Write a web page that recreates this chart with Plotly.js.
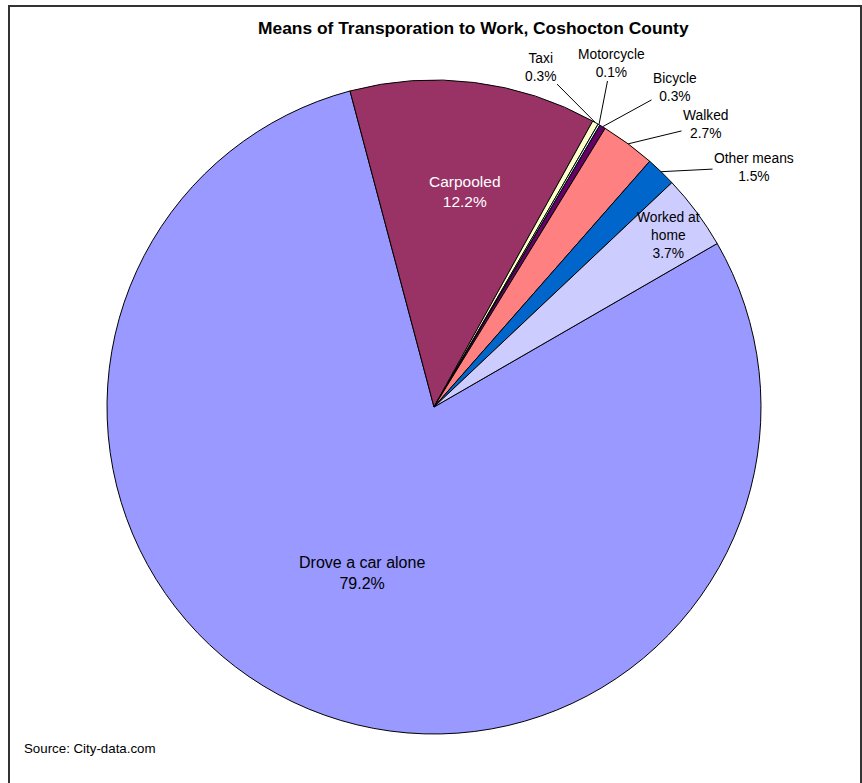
<!DOCTYPE html>
<html>
<head>
<meta charset="utf-8">
<script src="https://cdn.plot.ly/plotly-3.0.1.min.js"></script>
<style>html,body{margin:0;padding:0;background:#fff;}#chart{width:862px;height:783px;}</style>
</head>
<body>
<div id="chart"></div>
<script>
// ---- data ----
const categories = ["Drove a car alone", "Carpooled", "Taxi", "Motorcycle", "Bicycle", "Walked", "Other means", "Worked at home"];
const labelText = ["Drove a car alone", "Carpooled", "Taxi", "Motorcycle", "Bicycle", "Walked", "Other means", "Worked at<br>home"];
const percents = [79.2, 12.2, 0.3, 0.1, 0.3, 2.7, 1.5, 3.7];
const colors = ["#9999FF", "#993366", "#FFFFCC", "#CCFFFF", "#660066", "#FF8080", "#0066CC", "#CCCCFF"];

// ---- layout constants ----
const W = 862, H = 783;
const CX = 434, CY = 407, R = 327;
const ROT = 60;
const FONT = "Arial, 'Liberation Sans', sans-serif";
// label placement (text centre in pixels), leader flag, font size, colour
const labelPos = [
  {x: 362, y: 573, leader: false, size: 16,   color: "#000"},
  {x: 465, y: 192, leader: false, size: 15.5, color: "#fff"},
  {x: 540, y: 67,  leader: true,  size: 13.8, color: "#000"},
  {x: 611, y: 63,  leader: true,  size: 13.8, color: "#000"},
  {x: 675, y: 87,  leader: true,  size: 13.8, color: "#000"},
  {x: 706, y: 125, leader: true,  size: 13.8, color: "#000"},
  {x: 754, y: 167, leader: true,  size: 13.8, color: "#000"},
  {x: 668, y: 235, leader: false, size: 13.8, color: "#000"}
];

const total = percents.reduce((a, b) => a + b, 0);
let cum = 0;
const annotations = [];
percents.forEach((v, i) => {
  const mid = ROT + (cum + v / 2) / total * 360;
  cum += v;
  const p = labelPos[i];
  const txt = labelText[i] + "<br>" + v.toFixed(1) + "%";
  if (p.leader) {
    const a = mid * Math.PI / 180;
    const ex = CX + R * Math.sin(a), ey = CY - R * Math.cos(a);
    annotations.push({
      xref: "paper", yref: "paper", x: ex / W, y: 1 - ey / H,
      ax: p.x - ex, ay: p.y - ey, axref: "pixel", ayref: "pixel",
      text: txt, showarrow: true, arrowhead: 0, arrowwidth: 1, arrowcolor: "#000",
      standoff: 0, startstandoff: 0,
      font: {family: FONT, size: p.size, color: p.color}, align: "center"
    });
  } else {
    annotations.push({
      xref: "paper", yref: "paper", x: p.x / W, y: 1 - p.y / H,
      xanchor: "center", yanchor: "middle", text: txt, showarrow: false,
      font: {family: FONT, size: p.size, color: p.color}, align: "center"
    });
  }
});

annotations.push({
  xref: "paper", yref: "paper", x: 473 / W, y: 1 - 28 / H, xanchor: "center", yanchor: "middle",
  text: "<b>Means of Transporation to Work, Coshocton County</b>", showarrow: false,
  font: {family: FONT, size: 17.4, color: "#000"}
});
annotations.push({
  xref: "paper", yref: "paper", x: 22 / W, y: 1 - 748 / H, xanchor: "left", yanchor: "middle",
  text: "Source: City-data.com", showarrow: false,
  font: {family: FONT, size: 13.3, color: "#000"}
});

const trace = {
  type: "pie",
  labels: categories,
  values: percents,
  sort: false,
  direction: "clockwise",
  rotation: ROT,
  textinfo: "none",
  hoverinfo: "label+percent",
  marker: {colors: colors, line: {color: "#000", width: 1}},
  domain: {x: [(CX - R) / W, (CX + R) / W], y: [1 - (CY + R) / H, 1 - (CY - R) / H]},
  showlegend: false
};

const layout = {
  width: W, height: H,
  margin: {l: 0, r: 0, t: 0, b: 0},
  paper_bgcolor: "#fff",
  showlegend: false,
  annotations: annotations,
  shapes: [{
    type: "rect", xref: "paper", yref: "paper",
    x0: 9 / W, x1: 861 / W, y0: -0.02, y1: 1 - 6 / H,
    line: {color: "#333", width: 2}, fillcolor: "rgba(0,0,0,0)"
  }]
};

Plotly.newPlot("chart", [trace], layout, {displayModeBar: false, staticPlot: true});
</script>
</body>
</html>
